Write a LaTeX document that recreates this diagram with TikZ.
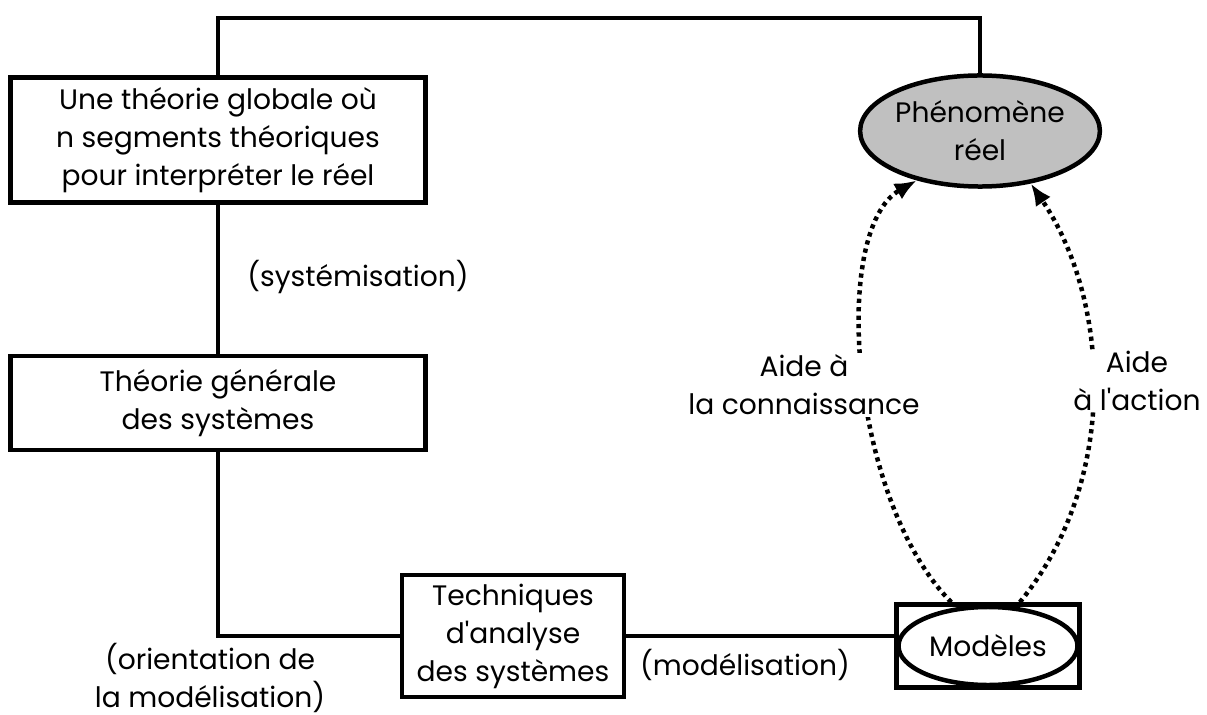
\documentclass[tikz,border=0pt]{standalone}
\usepackage{fontspec}
\setmainfont{Poppins}
\usetikzlibrary{arrows.meta,positioning,shapes.geometric}
\definecolor{ink}{HTML}{000000}
\definecolor{phengray}{HTML}{C0C0C0}
\definecolor{white}{HTML}{FFFFFF}

\begin{document}
\begin{tikzpicture}[x=0.025cm,y=-0.025cm, every node/.style={font=\fontsize{20}{27}\selectfont}, bx/.style={draw=ink,line width=3.2pt,align=center,inner sep=0pt}, el/.style={ellipse,draw=ink,line width=3.2pt,align=center,inner sep=0pt}, lbl/.style={align=center,inner sep=1pt}, lk/.style={draw=ink,line width=3.2pt}, dt/.style={draw=ink,line width=3.2pt,dash pattern=on 3pt off 3pt,-{Latex[length=5.5mm,width=4.5mm]}}]
\useasboundingbox (0,0) rectangle (1207,715);
% boxes and ellipses
\node[bx,minimum width=10.375cm,minimum height=3.125cm] (glob) at (218,140) {Une théorie globale où\\n segments théoriques\\pour interpréter le réel};
\node[bx,minimum width=10.375cm,minimum height=2.35cm] (gen) at (218,403) {Théorie générale\\des systèmes};
\node[bx,minimum width=5.55cm,minimum height=3.05cm] (tech) at (513,636) {Techniques\\d\textquotesingle analyse\\des systèmes};
\node[bx,minimum width=4.575cm,minimum height=2.075cm] (modbox) at (988,646) {};
\node[el,minimum width=4.475cm,minimum height=1.95cm] (mod) at (988,646) {Modèles};
\node[el,fill=phengray,minimum width=4.325cm,minimum height=2.775cm] (phen) at (980,131) {Phénomène\\réel};
\coordinate (top) at (0,18);
% solid links
\draw[lk] (glob.north) -- (glob.north |- top) -| (phen.north);
\draw[lk] (glob) -- (gen);
\draw[lk] (gen.south) |- (tech.west);
\draw[lk] (tech.east) -- (tech.east -| modbox.west);
% dotted arrows
\draw[dt] (modbox.130.5) .. controls (850,500) and (830,230) .. (phen.218);
\draw[dt] (modbox.54.7) .. controls (1120,480) and (1110,300) .. (phen.314);
% labels
\node[lbl] (sys) at (358,277) {(systémisation)};
\node[lbl] (orient) at (210,678) {(orientation de\\la modélisation)};
\node[lbl] (modl) at (745,665) {(modélisation)};
\node[lbl,fill=white] (conn) at (804,385) {Aide à\\la connaissance};
\node[lbl,fill=white] (act) at (1137,381) {Aide\\à l\textquotesingle action};
\end{tikzpicture}
\end{document}
